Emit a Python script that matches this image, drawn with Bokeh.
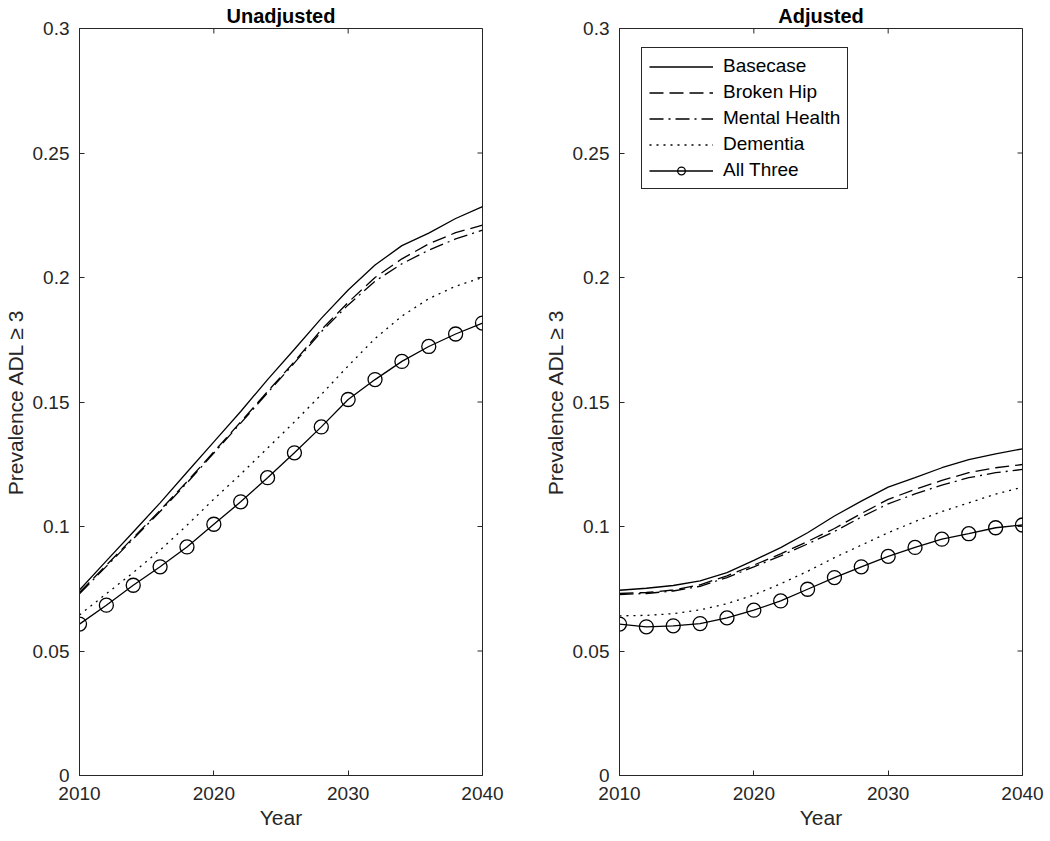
from bokeh.plotting import figure
from bokeh.layouts import row
from bokeh.models import (Range1d, FixedTicker, CustomJSTickFormatter,
                          Legend, LegendItem)
from bokeh.embed import file_html
from bokeh.resources import INLINE

# ---------------- data ----------------
years = [2010, 2012, 2014, 2016, 2018, 2020, 2022, 2024,
         2026, 2028, 2030, 2032, 2034, 2036, 2038, 2040]

series_names = ["Basecase", "Broken Hip", "Mental Health", "Dementia", "All Three"]

unadj_basecase = [0.0745, 0.0862, 0.0978, 0.1095, 0.1218, 0.1340, 0.1462, 0.1590,
                  0.1712, 0.1836, 0.1950, 0.2050, 0.2128, 0.2178, 0.2237, 0.2285]
unadj_brokenhip = [0.0735, 0.0845, 0.0955, 0.1065, 0.1180, 0.1300, 0.1420, 0.1542,
                   0.1662, 0.1790, 0.1900, 0.2000, 0.2075, 0.2135, 0.2180, 0.2210]
unadj_mental = [0.0730, 0.0840, 0.0950, 0.1060, 0.1175, 0.1295, 0.1415, 0.1537,
                0.1657, 0.1782, 0.1890, 0.1985, 0.2055, 0.2110, 0.2155, 0.2190]
unadj_dementia = [0.0645, 0.0730, 0.0815, 0.0905, 0.1005, 0.1110, 0.1210, 0.1315,
                  0.1420, 0.1530, 0.1645, 0.1755, 0.1845, 0.1915, 0.1965, 0.2000]
unadj_allthree = [0.0608, 0.0684, 0.0764, 0.0838, 0.0918, 0.1009, 0.1099, 0.1196,
                  0.1296, 0.1400, 0.1510, 0.1590, 0.1663, 0.1723, 0.1773, 0.1817]

adj_basecase = [0.0744, 0.0752, 0.0763, 0.0782, 0.0815, 0.0864, 0.0915, 0.0975,
                0.1042, 0.1102, 0.1158, 0.1196, 0.1236, 0.1269, 0.1292, 0.1312]
adj_brokenhip = [0.0731, 0.0735, 0.0745, 0.0766, 0.0802, 0.0845, 0.0890, 0.0940,
                 0.0992, 0.1052, 0.1109, 0.1149, 0.1185, 0.1216, 0.1236, 0.1249]
adj_mental = [0.0727, 0.0731, 0.0741, 0.0760, 0.0795, 0.0838, 0.0882, 0.0930,
              0.0980, 0.1038, 0.1091, 0.1131, 0.1166, 0.1196, 0.1216, 0.1229]
adj_dementia = [0.0641, 0.0643, 0.0650, 0.0665, 0.0690, 0.0725, 0.0770, 0.0820,
                0.0875, 0.0925, 0.0975, 0.1020, 0.1060, 0.1095, 0.1130, 0.1158]
adj_allthree = [0.0608, 0.0597, 0.0601, 0.0610, 0.0633, 0.0664, 0.0701, 0.0748,
                0.0795, 0.0838, 0.0880, 0.0916, 0.0949, 0.0971, 0.0995, 0.1006]

x_ticks = [2010, 2020, 2030, 2040]
y_ticks = [0, 0.05, 0.1, 0.15, 0.2, 0.25, 0.3]

x_label = "Year"
y_label = "Prevalence ADL \u2265 3"
titles = ["Unadjusted", "Adjusted"]

# ---------------- style ----------------
FONT = "Liberation Sans"
INK = "#262626"
FRAME_W, FRAME_H = 403, 747
X0, X1, Y0, Y1 = 2010, 2040, 0.0, 0.3
TICK_PX = 5
styles = [
    dict(line_dash="solid"),
    dict(line_dash="14 6"),
    dict(line_dash="14 5 2 5"),
    dict(line_dash="2 5"),
    dict(line_dash="solid"),
]
fmt = CustomJSTickFormatter(code="""
    var s = tick.toFixed(2);
    if (s.indexOf('.') >= 0) { s = s.replace(/0+$/, '').replace(/\\.$/, ''); }
    return s;
""")


def make_panel(title, data, with_legend, mbl, mbr):
    p = figure(frame_width=FRAME_W, frame_height=FRAME_H,
               min_border_left=mbl, min_border_right=mbr,
               min_border_top=0, min_border_bottom=60,
               x_range=Range1d(X0, X1), y_range=Range1d(Y0, Y1),
               output_backend="svg", toolbar_location=None, title=title)
    p.background_fill_color = "white"
    p.border_fill_color = "white"
    p.outline_line_color = INK
    p.outline_line_width = 1
    p.xgrid.visible = False
    p.ygrid.visible = False

    p.title.text_font = FONT
    p.title.text_font_size = "20px"
    p.title.text_font_style = "bold"
    p.title.text_color = "black"
    p.title.align = "center"
    p.title.standoff = 4

    p.xaxis.ticker = FixedTicker(ticks=x_ticks)
    p.yaxis.ticker = FixedTicker(ticks=y_ticks)
    p.yaxis.formatter = fmt
    for ax in p.xaxis + p.yaxis:
        ax.axis_line_color = INK
        ax.major_tick_line_color = INK
        ax.major_tick_in = TICK_PX
        ax.major_tick_out = 0
        ax.minor_tick_line_color = None
        ax.major_label_text_font = FONT
        ax.major_label_text_color = INK
        ax.major_label_text_font_size = "19px"
        ax.axis_label_text_font = FONT
        ax.axis_label_text_font_size = "21px"
        ax.axis_label_text_font_style = "normal"
        ax.axis_label_text_color = INK
    p.xaxis.major_label_standoff = 11
    p.yaxis.major_label_standoff = 10
    p.xaxis.axis_label_standoff = 3
    p.yaxis.axis_label_standoff = 3
    p.xaxis.axis_label = x_label
    p.yaxis.axis_label = y_label

    # mirrored inward ticks on the top and right edges of the box
    dy = (Y1 - Y0) / FRAME_H * TICK_PX
    dx = (X1 - X0) / FRAME_W * TICK_PX
    p.segment(x0=x_ticks, y0=[Y1] * len(x_ticks), x1=x_ticks, y1=[Y1 - dy] * len(x_ticks),
              line_color=INK, line_width=1)
    p.segment(x0=[X1] * len(y_ticks), y0=y_ticks, x1=[X1 - dx] * len(y_ticks), y1=y_ticks,
              line_color=INK, line_width=1)

    items = []
    for name, vals, st in zip(series_names, data, styles):
        r = p.line(years, vals, line_color="black", line_width=1.3, **st)
        rs = [r]
        if name == "All Three":
            s = p.scatter(years, vals, marker="circle", size=14, fill_color=None,
                          line_color="black", line_width=1.3)
            rs.append(s)
        items.append(LegendItem(label=name, renderers=rs))

    if with_legend:
        leg = Legend(items=items, location=(22, 586))
        leg.border_line_color = INK
        leg.border_line_width = 1
        leg.border_line_alpha = 1
        leg.background_fill_color = "white"
        leg.background_fill_alpha = 1
        leg.label_text_font = FONT
        leg.label_text_font_size = "19px"
        leg.label_text_color = "black"
        leg.glyph_width = 64
        leg.glyph_height = 19
        leg.label_height = 19
        leg.label_standoff = 10
        leg.spacing = 4
        leg.padding = 7
        leg.margin = 0
        p.add_layout(leg)
    return p


left = make_panel(titles[0],
                  [unadj_basecase, unadj_brokenhip, unadj_mental, unadj_dementia, unadj_allthree],
                  False, 74, 58)
right_p = make_panel(titles[1],
                     [adj_basecase, adj_brokenhip, adj_mental, adj_dementia, adj_allthree],
                     True, 74, 22)

layout = row(left, right_p, spacing=0)
open("out.html", "w").write(file_html(layout, INLINE))
